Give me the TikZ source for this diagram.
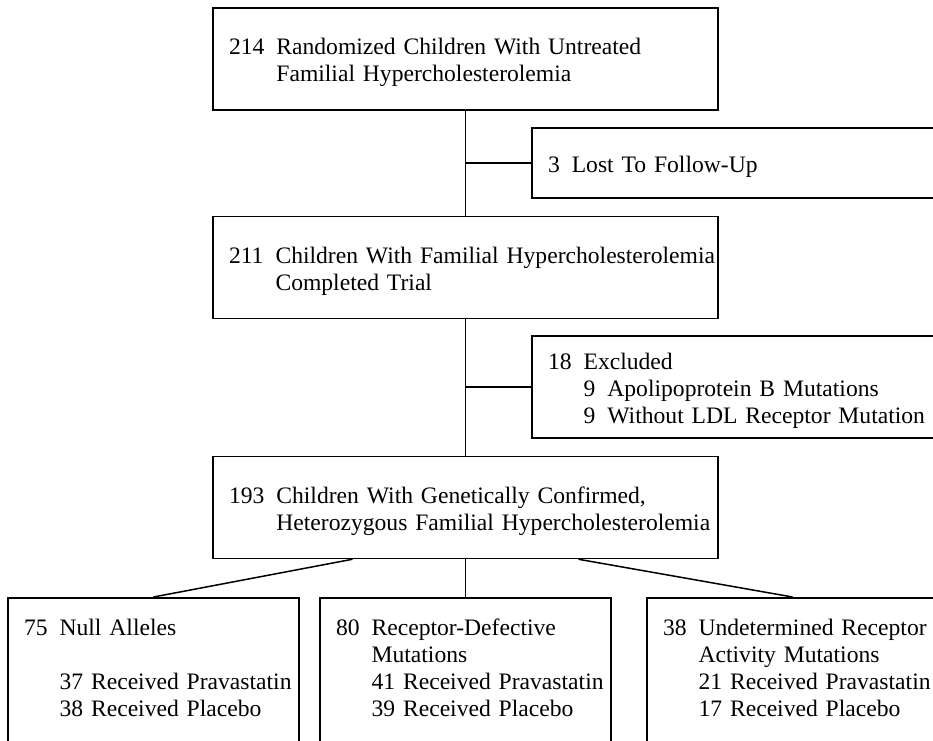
\documentclass[tikz,border=0pt]{standalone}
\usepackage{fontspec}
\setmainfont{Liberation Serif}

% rows of a box: count, then text
\newcommand{\boxrows}[1]{\begin{tabular}{@{\hspace{6pt}}l@{\hspace{6pt}}l@{}}\rule{0pt}{13.45pt}#1\end{tabular}}
\newcommand{\armrows}[1]{\begin{tabular}[t]{@{\hspace{6pt}}l@{\hspace{6pt}}l@{}}#1\end{tabular}}

\begin{document}
\begin{tikzpicture}[x=0.5pt,y=-0.5pt,
    font=\fontsize{11.8pt}{13.5pt}\selectfont,
    box/.style={draw,rectangle,line width=0.75pt,inner xsep=2pt,align=left},
    mainbox/.style={box,text width=248.5pt,minimum height=51pt},
    sidebox/.style={box,text width=206pt},
    armbox/.style={box,text width=141.5pt,anchor=north,inner ysep=9.5pt,text depth=80pt},
    link/.style={line width=0.75pt}]
    \useasboundingbox (0,0) rectangle (933,740);
    \clip (0,0) rectangle (933,740);

    \node[mainbox](rand) at (465.5,59){\boxrows{214 & Randomized Children With Untreated\\ & Familial Hypercholesterolemia}};
    \node[sidebox,minimum height=35pt](lost) at (742,163){\boxrows{3 & Lost To Follow-Up}};
    \node[mainbox](done) at (465.5,267.5){\boxrows{211 & Children With Familial Hypercholesterolemia\\ & Completed Trial}};
    \node[sidebox,minimum height=51pt](excl) at (742,387){\boxrows{18 & Excluded\\ & 9\hspace{6pt}Apolipoprotein B Mutations\\ & 9\hspace{6pt}Without LDL Receptor Mutation}};
    \node[mainbox](conf) at (465.5,507.5){\boxrows{193 & Children With Genetically Confirmed,\\ & Heterozygous Familial Hypercholesterolemia}};

    \node[armbox](nulla) at (153.5,597){\armrows{75 & Null Alleles\\ & \\ & 37 Received Pravastatin\\ & 38 Received Placebo}};
    \node[armbox](recd) at (465.5,597){\armrows{80 & Receptor-Defective\\ & Mutations\\ & 41 Received Pravastatin\\ & 39 Received Placebo}};
    \node[armbox](undet) at (792.5,597){\armrows{38 & Undetermined Receptor\\ & Activity Mutations\\ & 21 Received Pravastatin\\ & 17 Received Placebo}};

    \draw[link](rand)--(done);
    \draw[link](rand.south |- lost)--(lost);
    \draw[link](done)--(conf);
    \draw[link](done.south |- excl)--(excl);
    \draw[link](conf)--(recd);
    \draw[link]([xshift=-56.5pt]conf.south)--(nulla.north);
    \draw[link]([xshift=56.5pt]conf.south)--(undet.north);
\end{tikzpicture}
\end{document}
